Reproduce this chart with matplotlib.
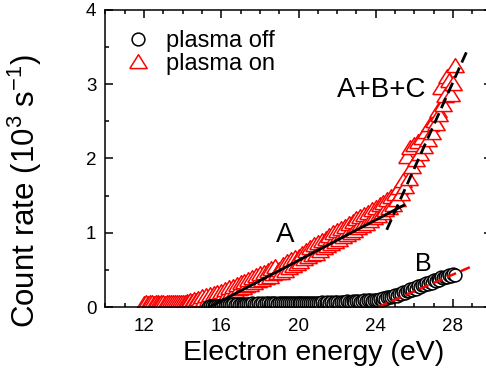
import numpy as np
import matplotlib
matplotlib.use('Agg')
import matplotlib.pyplot as plt
from matplotlib.ticker import MultipleLocator

plt.rcParams['font.family'] = ['Liberation Sans', 'DejaVu Sans']
plt.rcParams['mathtext.default'] = 'regular'

# scan grid, 0.1 eV steps
energy_on = np.round(np.arange(12.0, 28.15, 0.1), 2)
energy_off = np.round(np.arange(15.3, 28.15, 0.1), 2)

# count rate, 10^3 s^-1
rate_on = [
    0.04, 0.05, 0.04, 0.05, 0.05, 0.04, 0.05, 0.05, 0.04, 0.05,
    0.05, 0.04, 0.05, 0.06, 0.05, 0.05, 0.06, 0.05, 0.06, 0.06,
    0.06, 0.05, 0.07, 0.06, 0.08, 0.07, 0.09, 0.08, 0.11, 0.09,
    0.13, 0.10, 0.15, 0.11, 0.16, 0.12, 0.17, 0.13, 0.19, 0.15,
    0.20, 0.16, 0.23, 0.18, 0.25, 0.20, 0.27, 0.22, 0.30, 0.24,
    0.32, 0.26, 0.34, 0.28, 0.37, 0.30, 0.39, 0.33, 0.42, 0.35,
    0.44, 0.37, 0.46, 0.39, 0.49, 0.41, 0.51, 0.44, 0.54, 0.46,
    0.50, 0.46, 0.56, 0.49, 0.60, 0.52, 0.63, 0.55, 0.66, 0.58,
    0.68, 0.60, 0.72, 0.64, 0.76, 0.67, 0.80, 0.70, 0.83, 0.72,
    0.86, 0.75, 0.89, 0.79, 0.92, 0.82, 0.95, 0.85, 0.99, 0.88,
    1.02, 0.90, 1.05, 0.94, 1.08, 0.97, 1.12, 1.00, 1.15, 1.03,
    1.18, 1.06, 1.21, 1.09, 1.24, 1.12, 1.27, 1.16, 1.30, 1.20,
    1.34, 1.22, 1.37, 1.26, 1.40, 1.30, 1.44, 1.34, 1.48, 1.38,
    1.52, 1.44, 1.60, 1.52, 1.70, 1.62, 2.02, 1.72, 2.14, 1.88,
    2.18, 1.98, 2.22, 2.06, 2.28, 2.15, 2.36, 2.25, 2.45, 2.35,
    2.50, 2.46, 2.64, 2.58, 2.95, 2.72, 2.84, 3.10, 3.04, 2.86,
    3.00, 3.24,
]
rate_off = [
    0.00, 0.01,
    0.01, 0.01, 0.02, 0.01, 0.02,
    0.02, 0.03, 0.02, 0.03, 0.03, 0.03, 0.04, 0.03, 0.04, 0.03,
    0.04, 0.04, 0.03, 0.04, 0.04, 0.04, 0.05, 0.04, 0.04, 0.05,
    0.04, 0.05, 0.04, 0.05, 0.05, 0.04, 0.05, 0.05, 0.05, 0.04,
    0.05, 0.05, 0.05, 0.06, 0.05, 0.05, 0.06, 0.05, 0.06, 0.05,
    0.06, 0.05, 0.06, 0.06, 0.05, 0.06, 0.06, 0.06, 0.05, 0.06,
    0.06, 0.06, 0.07, 0.06, 0.06, 0.07, 0.06, 0.07, 0.06, 0.07,
    0.07, 0.06, 0.07, 0.07, 0.07, 0.08, 0.07, 0.07, 0.08, 0.07,
    0.08, 0.08, 0.07, 0.08, 0.09, 0.08, 0.09, 0.09, 0.08, 0.10,
    0.09, 0.10, 0.11, 0.10, 0.12, 0.11, 0.13, 0.14, 0.13, 0.15,
    0.16, 0.15, 0.18, 0.17, 0.20, 0.19, 0.22, 0.21, 0.24, 0.23,
    0.26, 0.24, 0.28, 0.27, 0.30, 0.29, 0.32, 0.31, 0.34, 0.33,
    0.36, 0.35, 0.38, 0.37, 0.40, 0.39, 0.41, 0.40, 0.43, 0.42,
    0.44, 0.43,
]

# linear fits (end points)
fit_a_x, fit_a_y = [15.4, 25.45], [0.0, 1.37]
fit_abc_x, fit_abc_y = [24.57, 28.71], [1.04, 3.44]
fit_b_x, fit_b_y = [24.12, 29.0], [0.0, 0.55]

triangle = [(-1, -0.7), (1, -0.7), (0, 0.9), (-1, -0.7)]

fig = plt.figure(figsize=(4.86, 3.81), dpi=100)
ax = fig.add_axes([0.2169, 0.1942, 0.7946, 0.7796])

ax.plot(energy_on, rate_on, linestyle='none', marker=triangle, ms=12.5,
        mfc='white', mec='red', mew=1.1, label='plasma on')
ax.plot(energy_off, rate_off, linestyle='none', marker='o', ms=9.2,
        mfc='white', mec='black', mew=1.1, label='plasma off')

ax.plot(fit_a_x, fit_a_y, color='black', lw=2.0)
ax.plot(fit_abc_x, fit_abc_y, color='black', lw=2.0, dashes=(4, 2))
ax.plot(fit_b_x, fit_b_y, color='red', lw=1.8, dashes=(4, 2))

ax.text(21.98, 2.83, 'A+B+C', fontsize=20)
ax.text(18.83, 0.88, 'A', fontsize=20)
ax.text(26.03, 0.485, 'B', fontsize=18)

ax.set_xlim(10, 30)
ax.set_ylim(0, 4)
ax.xaxis.set_major_locator(MultipleLocator(4))
ax.xaxis.set_minor_locator(MultipleLocator(1))
ax.yaxis.set_major_locator(MultipleLocator(1))
ax.yaxis.set_minor_locator(MultipleLocator(0.5))
ax.tick_params(which='both', direction='in', top=True, right=True,
               width=1.1, labelsize=13.5)
ax.tick_params(which='major', length=5.8)
ax.tick_params(which='minor', length=3.2)
ax.tick_params(axis='x', pad=8)
ax.tick_params(axis='y', pad=6.5)
for s in ax.spines.values():
    s.set_linewidth(1.1)

ax.set_xlabel('Electron energy (eV)', fontsize=20.5, va='top')
ax.xaxis.set_label_coords(0.540, -0.11)
ax.set_ylabel('Count rate (10$^{3}$ s$^{-1}$)', fontsize=22.5)
ax.yaxis.set_label_coords(-0.158, 0.392)

handles, labels = ax.get_legend_handles_labels()
ax.legend(handles[::-1], labels[::-1], loc='upper left',
          bbox_to_anchor=(0.044, 0.931), frameon=False, fontsize=17,
          handlelength=1.3, handletextpad=0.55, labelspacing=0.04,
          borderaxespad=0, borderpad=0)

fig.savefig('out.png', dpi=100)
